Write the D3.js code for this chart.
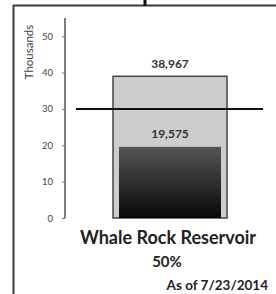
<!DOCTYPE html>
<html><head><meta charset="utf-8">
<script src="https://cdn.jsdelivr.net/npm/d3@7"></script>
<style>html,body{margin:0;padding:0;background:#fff;}svg{display:block;}</style>
</head><body>
<script>
const categories = ["Whale Rock Reservoir"];
const capacity = [38.967];
const current = [19.575];
const threshold = [30];
const yTicks = [0, 10, 20, 30, 40, 50];
const capacityLabels = ["38,967"];
const currentLabels = ["19,575"];
const title = "Whale Rock Reservoir";
const percentLabel = "50%";
const dateLabel = "As of 7/23/2014";
const yAxisTitle = "Thousands";

const W = 276, H = 294;
const svg = d3.select("body").append("svg").attr("width", W).attr("height", H);
const font = "Lato, 'Open Sans', sans-serif";

// frame
svg.append("line").attr("x1", 13).attr("x2", W).attr("y1", 5.5).attr("y2", 5.5).attr("stroke", "#3a3a3a").attr("stroke-width", 2);
svg.append("line").attr("x1", 13.5).attr("x2", 13.5).attr("y1", 5).attr("y2", H).attr("stroke", "#3a3a3a").attr("stroke-width", 2);
svg.append("line").attr("x1", 145).attr("x2", 145).attr("y1", 0).attr("y2", 6).attr("stroke", "#111").attr("stroke-width", 3);

const y = d3.scaleLinear().domain([0, 55]).range([218, 18]);
const x = d3.scaleBand().domain(categories).range([65, 275]).paddingInner(0).paddingOuter(0.421);

const defs = svg.append("defs");
const grad = defs.append("linearGradient").attr("id", "dk").attr("x1", 0).attr("x2", 0).attr("y1", 0).attr("y2", 1);
grad.append("stop").attr("offset", "0%").attr("stop-color", "#555");
grad.append("stop").attr("offset", "100%").attr("stop-color", "#080808");

// axis
const axis = d3.axisLeft(y).tickValues(yTicks).tickSize(3).tickPadding(9).tickSizeOuter(0);
const ag = svg.append("g").attr("transform", "translate(65,0)").call(axis);
ag.select(".domain").remove();
ag.append("line").attr("x1", 0).attr("x2", 0).attr("y1", 18).attr("y2", y(0)).attr("stroke", "#555").attr("stroke-width", 1.5);
ag.selectAll(".tick line").attr("stroke", "#777");
ag.selectAll(".tick text").attr("font-family", font).attr("font-size", 9.5).attr("fill", "#444");

svg.append("text").attr("transform", "translate(33,52) rotate(-90)").attr("text-anchor", "middle")
  .attr("font-family", font).attr("font-size", 11.5).attr("fill", "#444").text(yAxisTitle);

// bars
svg.selectAll(".cap").data(categories).enter().append("rect")
  .attr("x", d => x(d)).attr("width", x.bandwidth())
  .attr("y", (d, i) => y(capacity[i])).attr("height", (d, i) => y(0) - y(capacity[i]))
  .attr("fill", "#cdcdcd").attr("stroke", "#444").attr("stroke-width", 1.5);
svg.selectAll(".cur").data(categories).enter().append("rect")
  .attr("x", d => x(d) + 6).attr("width", x.bandwidth() - 12)
  .attr("y", (d, i) => y(current[i])).attr("height", (d, i) => y(0) - y(current[i]))
  .attr("fill", "url(#dk)");

// threshold line
svg.append("line").attr("x1", 76).attr("x2", 263).attr("y1", y(threshold[0])).attr("y2", y(threshold[0]))
  .attr("stroke", "#111").attr("stroke-width", 2);

// value labels
svg.selectAll(".cl").data(categories).enter().append("text")
  .attr("x", d => x(d) + x.bandwidth() / 2).attr("y", (d, i) => y(capacity[i]) - 8)
  .attr("text-anchor", "middle").attr("font-family", font).attr("font-size", 12).attr("font-weight", 700)
  .attr("fill", "#333").text((d, i) => capacityLabels[i]);
svg.selectAll(".vl").data(categories).enter().append("text")
  .attr("x", d => x(d) + x.bandwidth() / 2).attr("y", (d, i) => y(current[i]) - 9)
  .attr("text-anchor", "middle").attr("font-family", font).attr("font-size", 12).attr("font-weight", 700)
  .attr("fill", "#333").text((d, i) => currentLabels[i]);

// titles
svg.append("text").attr("x", 168).attr("y", 244).attr("text-anchor", "middle").attr("font-family", font)
  .attr("font-size", 18).attr("font-weight", 700).attr("fill", "#222").text(title);
svg.append("text").attr("x", 167).attr("y", 267).attr("text-anchor", "middle").attr("font-family", font)
  .attr("font-size", 15).attr("font-weight", 700).attr("fill", "#222").text(percentLabel);
svg.append("text").attr("x", 268).attr("y", 290).attr("text-anchor", "end").attr("font-family", font)
  .attr("font-size", 13.5).attr("font-weight", 700).attr("fill", "#222").text(dateLabel);
</script>
</body></html>
